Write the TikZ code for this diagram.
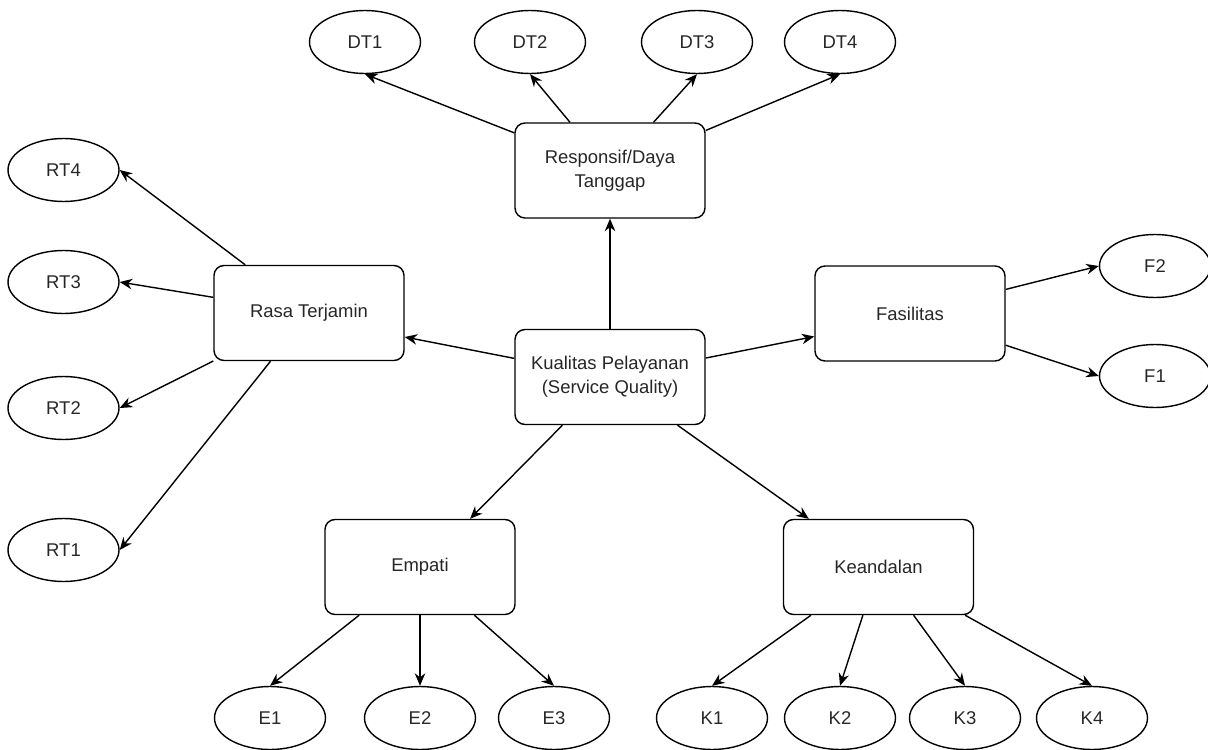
\documentclass[tikz,border=0pt]{standalone}
\usepackage{fontspec}
\setmainfont{Liberation Sans}
\usetikzlibrary{arrows.meta,shapes.geometric}
\definecolor{Ink}{HTML}{262626}

\begin{document}
\begin{tikzpicture}[>={Stealth[length=0.25cm,width=0.21cm]},line width=0.8pt]
        \tikzset{
          dimbox/.style={
            draw,
            rounded corners=0.2cm,
            minimum width=3.8cm,
            minimum height=1.9cm,
            align=center,
            text=Ink,
            font=\fontsize{10.5pt}{13.6pt}\selectfont
          },
          itemnode/.style={
            draw,
            ellipse,
            minimum width=2.22cm,
            minimum height=1.26cm,
            inner sep=0pt,
            text=Ink,
            font=\fontsize{10.5pt}{13.6pt}\selectfont
          }
        }
        \useasboundingbox (0,0) rectangle (24.16,-14.98);
        % the five dimensions round the centre
        \node[dimbox] (sq) at (12.2,-7.54) {Kualitas Pelayanan\\(Service Quality)};
        \node[dimbox] (resp) at (12.2,-3.41) {Responsif/Daya\\Tanggap};
        \node[dimbox] (rasa) at (6.18,-6.26) {Rasa Terjamin};
        \node[dimbox] (fas) at (18.2,-6.27) {Fasilitas};
        \node[dimbox] (emp) at (8.4,-11.34) {Empati};
        \node[dimbox] (keand) at (17.57,-11.34) {Keandalan};
        % indicators
        \node[itemnode] (dt1) at (7.3,-0.84) {DT1};
        \node[itemnode] (dt2) at (10.6,-0.84) {DT2};
        \node[itemnode] (dt3) at (13.94,-0.84) {DT3};
        \node[itemnode] (dt4) at (16.8,-0.84) {DT4};
        \node[itemnode] (rt4) at (1.27,-3.4) {RT4};
        \node[itemnode] (rt3) at (1.27,-5.64) {RT3};
        \node[itemnode] (rt2) at (1.27,-8.16) {RT2};
        \node[itemnode] (rt1) at (1.27,-11.0) {RT1};
        \node[itemnode] (f2) at (23.1,-5.32) {F2};
        \node[itemnode] (f1) at (23.1,-7.52) {F1};
        \node[itemnode] (e1) at (5.4,-14.36) {E1};
        \node[itemnode] (e2) at (8.4,-14.36) {E2};
        \node[itemnode] (e3) at (11.08,-14.36) {E3};
        \node[itemnode] (k1) at (14.24,-14.36) {K1};
        \node[itemnode] (k2) at (16.8,-14.36) {K2};
        \node[itemnode] (k3) at (19.3,-14.36) {K3};
        \node[itemnode] (k4) at (21.84,-14.36) {K4};
        \draw[->] (sq) -- (resp);
        \draw[->] (sq) -- ([yshift=-0.48cm]rasa.east);
        \draw[->] (sq) -- ([yshift=-0.46cm]fas.west);
        \draw[->] (sq) -- ([xshift=1cm]emp.north);
        \draw[->] (sq) -- ([xshift=0.52cm]keand.north west);
        \draw[->] (resp) -- (dt1.south);
        \draw[->] (resp) -- (dt2.south);
        \draw[->] (resp) -- (dt3.south);
        \draw[->] (resp) -- (dt4.south);
        \draw[->] (rasa) -- (rt4.east);
        \draw[->] (rasa) -- (rt3.east);
        \draw[->] (rasa) -- (rt2.east);
        \draw[->] (rasa) -- (rt1.east);
        \draw[->] (fas) -- (f2.west);
        \draw[->] (fas) -- (f1.west);
        \draw[->] (emp) -- (e1.north);
        \draw[->] (emp) -- (e2.north);
        \draw[->] (emp) -- (e3.north);
        \draw[->] (keand) -- (k1.north);
        \draw[->] (keand) -- (k2.north);
        \draw[->] (keand) -- (k3.north);
        \draw[->] (keand) -- (k4.north);
      \end{tikzpicture}
\end{document}
